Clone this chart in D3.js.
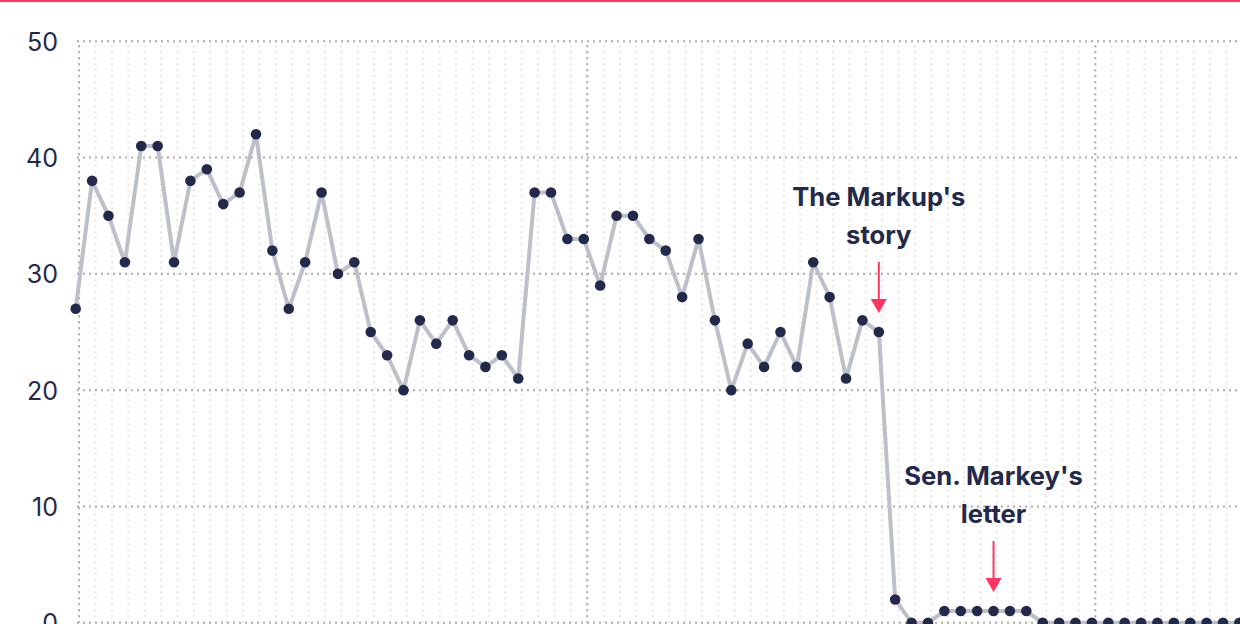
<!DOCTYPE html>
<html>
<head>
<meta charset="utf-8">
<script src="https://cdn.jsdelivr.net/npm/d3@7"></script>
<style>
  html, body { margin: 0; padding: 0; background: #fff; }
  svg { display: block; }
  .tick-label { font-family: Inter, "Noto Sans", sans-serif; font-size: 25px; fill: #23294b; }
  .note { font-family: Inter, "Noto Sans", sans-serif; font-size: 25.6px; font-weight: 700; fill: #23294b; }
</style>
</head>
<body>
<svg id="chart" width="1240" height="624"></svg>
<script>
// Daily share of users shown the recommendation (%), one value per day from 1 Dec 2020
const startDay = "2020-12-01";
const shareValues = [
  27, 38, 35, 31, 41, 41, 31, 38, 39, 36, 37, 42, 32, 27, 31, 37, 30, 31, 25, 23,
  20, 26, 24, 26, 23, 22, 23, 21, 37, 37, 33, 33, 29, 35, 35, 33, 32, 28, 33, 26,
  20, 24, 22, 25, 22, 31, 28, 21, 26, 25, 2, 0, 0, 1, 1, 1, 1, 1, 1, 0,
  0, 0, 0, 0, 0, 0, 0, 0, 0, 0, 0, 0, 0
];
const yTicks = [0, 10, 20, 30, 40, 50];
const noteDates = ["2021-01-19", "2021-01-26"];
const noteLines = [["The Markup's", "story"], ["Sen. Markey's", "letter"]];

const W = 1240, H = 624;
const svg = d3.select("#chart");
const parseDay = d3.utcParse("%Y-%m-%d");
const start = parseDay(startDay);
const days = shareValues.map((_, i) => d3.utcDay.offset(start, i));
const data = days.map((d, i) => ({ date: d, value: shareValues[i] }));

// Time axis: one day is ~16.4px; gridlines fall on midnight US Eastern (UTC+5h)
const pxPerDay = 16.39;
const x = d3.scaleUtc()
  .domain([start, d3.utcDay.offset(start, 80)])
  .range([75.7, 75.7 + 80 * pxPerDay]);
const y = d3.scaleLinear().domain([0, 50]).range([622.7, 41.3]);
const tzShift = d => d3.utcHour.offset(d, 5);

// Top accent rule
svg.append("rect").attr("x", 0).attr("y", 0).attr("width", W).attr("height", 2).attr("fill", "#ff3462");

const grid = svg.append("g");
const gridEnd = d3.utcDay.offset(start, 80);

// Minor daily gridlines
const dayLines = d3.utcDay.range(start, gridEnd).map(tzShift);
grid.selectAll("line.day").data(dayLines).join("line")
  .attr("class", "day")
  .attr("x1", d => x(d)).attr("x2", d => x(d))
  .attr("y1", y(50) + 4).attr("y2", y(0))
  .attr("stroke", "#e6e6e6").attr("stroke-width", 2).attr("stroke-dasharray", "2,4");

// Horizontal value gridlines
grid.selectAll("line.h").data(yTicks).join("line")
  .attr("class", "h")
  .attr("x1", 77).attr("x2", W)
  .attr("y1", d => y(d)).attr("y2", d => y(d))
  .attr("stroke", "#b3aba3").attr("stroke-width", 2).attr("stroke-dasharray", "2,4");

// Month gridlines
const monthLines = d3.utcMonth.range(start, gridEnd).map(tzShift);
grid.selectAll("line.month").data(monthLines).join("line")
  .attr("class", "month")
  .attr("x1", d => x(d)).attr("x2", d => x(d))
  .attr("y1", y(50) + 4).attr("y2", y(0))
  .attr("stroke", "#b3aba3").attr("stroke-width", 2).attr("stroke-dasharray", "2,4");

// Y axis labels
svg.append("g").selectAll("text").data(yTicks).join("text")
  .attr("class", "tick-label")
  .attr("x", 58).attr("y", d => y(d))
  .attr("dy", "0.38em")
  .attr("text-anchor", "end")
  .text(d => d);

// Series line
const line = d3.line().x(d => x(d.date)).y(d => y(d.value));
svg.append("path").datum(data)
  .attr("d", line)
  .attr("fill", "none")
  .attr("stroke", "#bec0c9")
  .attr("stroke-width", 4)
  .attr("stroke-linejoin", "round");

// Points
svg.append("g").selectAll("circle").data(data).join("circle")
  .attr("cx", d => x(d.date)).attr("cy", d => y(d.value))
  .attr("r", 5.3)
  .attr("fill", "#23294b");

// Event annotations with arrows
noteDates.forEach((ds, k) => {
  const d = parseDay(ds);
  const pt = data.find(p => +p.date === +d);
  const cx = x(d);
  const tip = y(pt.value) - 19;
  const g = svg.append("g");
  g.append("line")
    .attr("x1", cx).attr("x2", cx)
    .attr("y1", tip - 51).attr("y2", tip - 12)
    .attr("stroke", "#ff3462").attr("stroke-width", 2);
  g.append("path")
    .attr("d", `M${cx - 8},${tip - 14}L${cx + 8},${tip - 14}L${cx},${tip}Z`)
    .attr("fill", "#ff3462");
  g.selectAll("text").data(noteLines[k]).join("text")
    .attr("class", "note")
    .attr("x", cx)
    .attr("y", (_, i) => tip - 107 + i * 38)
    .attr("text-anchor", "middle")
    .text(t => t);
});
</script>
</body>
</html>
